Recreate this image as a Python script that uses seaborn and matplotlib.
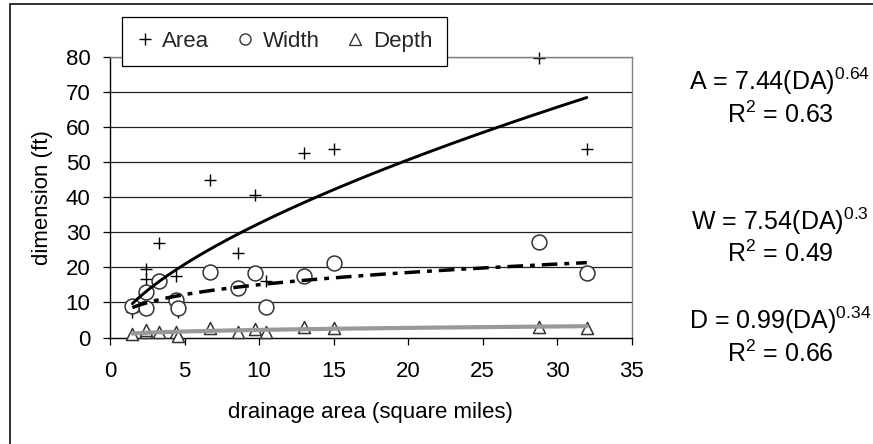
import numpy as np
import pandas as pd
import matplotlib
matplotlib.use("Agg")
import matplotlib.pyplot as plt
import seaborn as sns
from matplotlib.lines import Line2D
from matplotlib.patches import Rectangle

# ---- data ----
drainage_area = [1.5, 2.4, 2.4, 3.3, 4.4, 4.55, 6.7, 8.6, 9.7, 10.5, 13.0, 15.0, 28.8, 32.0]
area_vals     = [7.4, 19.4, 16.8, 27.0, 17.4, 7.4, 45.0, 24.2, 40.5, 16.2, 52.6, 53.8, 79.7, 53.8]
width_vals    = [9.1, 13.1, 8.5, 16.0, 10.8, 8.3, 18.8, 14.2, 18.3, 8.8, 17.4, 21.3, 27.3, 18.5]
depth_vals    = [0.9, 1.5, 2.0, 1.7, 1.7, 0.5, 2.8, 1.7, 2.3, 1.7, 3.1, 2.8, 2.9, 2.8]

# power-law fits shown on the chart: coef * DA ** expo
fit_names = ["A", "W", "D"]
fit_coef  = [7.44, 7.54, 0.99]
fit_expo  = [0.64, 0.3, 0.34]
fit_r2    = [0.63, 0.49, 0.66]
fit_range = [1.5, 32.0]

x_ticks = [0, 5, 10, 15, 20, 25, 30, 35]
y_ticks = [0, 10, 20, 30, 40, 50, 60, 70, 80]

sns.set_theme(style="white")
plt.rcParams['font.family'] = ['Liberation Sans', 'DejaVu Sans']
plt.rcParams['mathtext.fontset'] = 'custom'
plt.rcParams['mathtext.rm'] = 'Liberation Sans'
plt.rcParams['mathtext.it'] = 'Liberation Sans'

W, H = 873, 444
fig = plt.figure(figsize=(W / 100, H / 100), dpi=100)
ax = fig.add_axes([110 / W, 1 - 337.5 / H, (631.5 - 110) / W, (337.5 - 56.7) / H])

df = pd.DataFrame({"da": drainage_area, "area": area_vals,
                   "width": width_vals, "depth": depth_vals})

# gridlines
for yv in y_ticks[1:]:
    ax.axhline(yv, color="#202020", lw=0.9, zorder=0.5)

# scatter points
sns.scatterplot(data=df, x="da", y="area", marker="+", s=85, color="black",
                linewidth=1.0, ax=ax, zorder=2, clip_on=False)
sns.scatterplot(data=df, x="da", y="width", marker="o", s=115, facecolor="white",
                edgecolor="#333333", linewidth=1.1, ax=ax, zorder=3, clip_on=False)
sns.scatterplot(data=df, x="da", y="depth", marker="^", s=75, facecolor="white",
                edgecolor="#333333", linewidth=1.1, ax=ax, zorder=3, clip_on=False)

# trend lines
xs = np.linspace(fit_range[0], fit_range[1], 200)
styles = [dict(color="black", lw=2.1, ls="-"),
          dict(color="black", lw=2.5, ls=(0, (4.5, 2.0, 1.4, 2.0))),
          dict(color="#999999", lw=3.0, ls="-")]
for c, e, st in zip(fit_coef, fit_expo, styles):
    tdf = pd.DataFrame({"x": xs, "y": c * xs ** e})
    sns.lineplot(data=tdf, x="x", y="y", ax=ax, zorder=4, **st)

ax.set_xlim(0, 35)
ax.set_ylim(0, 80)
ax.set_xticks(x_ticks)
ax.set_yticks(y_ticks)
ax.tick_params(axis="both", direction="out", length=5, width=0.9, color="black",
               labelsize=16, labelcolor="black")
ax.tick_params(axis="x", pad=12)
ax.tick_params(axis="y", pad=9)
ax.xaxis.set_ticks_position("bottom")
ax.yaxis.set_ticks_position("left")
for side in ["left", "bottom"]:
    ax.spines[side].set_color("black")
    ax.spines[side].set_linewidth(1.0)
for side in ["top", "right"]:
    ax.spines[side].set_color("#808080")
    ax.spines[side].set_linewidth(1.0)

ax.set_xlabel("drainage area (square miles)", fontsize=16, color="black")
ax.set_ylabel("dimension (ft)", fontsize=16, color="black")
ax.xaxis.set_label_coords(0.5, (337.5 - 402) / (337.5 - 56.7))
ax.yaxis.set_label_coords((53 - 110) / (631.5 - 110), 0.5)

# legend
handles = [
    Line2D([], [], marker="+", ls="none", color="black", markersize=9, markeredgewidth=1.0),
    Line2D([], [], marker="o", ls="none", markerfacecolor="white", markeredgecolor="#333333",
           markersize=8, markeredgewidth=1.0),
    Line2D([], [], marker="^", ls="none", markerfacecolor="white", markeredgecolor="#333333",
           markersize=8, markeredgewidth=1.0),
]
leg = fig.legend(handles, ["Area", "Width", "Depth"], ncol=3, loc="upper left",
                 bbox_to_anchor=(122 / W, 1 - 17 / H), fontsize=16, frameon=True,
                 fancybox=False, framealpha=1, edgecolor="black",
                 handlelength=0.8, handletextpad=0.4, columnspacing=1.2,
                 borderpad=0.62, borderaxespad=0)
leg.get_frame().set_linewidth(0.9)

# equations
eq_pos = [(81, 115), (221, 254), (320, 354)]
for name, c, e, r2, (y1, y2) in zip(fit_names, fit_coef, fit_expo, fit_r2, eq_pos):
    fig.text(780 / W, 1 - y1 / H, f"{name} = {c:.2f}(DA)$^{{{e:g}}}$", ha="center",
             va="center", fontsize=18, color="black")
    fig.text(780 / W, 1 - y2 / H, f"R$^{{2}}$ = {r2:.2f}", ha="center", va="center",
             fontsize=18, color="black")

# outer chart border
fig.patches.append(Rectangle((10 / W, -0.1), 1.2, (1 - 4 / H) + 0.1, transform=fig.transFigure,
                             fill=False, edgecolor="#222222", lw=1.3))

fig.savefig("out.png", dpi=100)
